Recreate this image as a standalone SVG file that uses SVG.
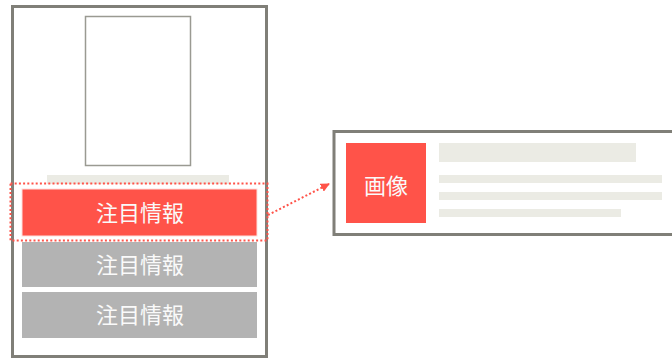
<svg xmlns="http://www.w3.org/2000/svg" width="672" height="358" viewBox="0 0 672 358">
<defs>
<style>
.frame{fill:#fff;stroke:#807f78;stroke-width:3}
.ph{fill:#ebebe4}
.red{fill:#ff5349}
.gray{fill:#b3b3b3}
.lbl{font-family:"Noto Sans CJK JP","Noto Sans CJK SC",sans-serif;font-size:22px;fill:#fafafa;text-anchor:middle;dominant-baseline:central}
.dot{fill:none;stroke:#ff5349;stroke-width:2;stroke-dasharray:2 2.2}
</style>
<marker id="ah" viewBox="0 0 10 10" refX="9" refY="5" markerWidth="4.5" markerHeight="4.5" orient="auto"><path d="M0,0 L10,5 L0,10 z" fill="#ff5349"/></marker>
</defs>
<g id="phone">
<rect class="frame" x="12.5" y="6.5" width="254" height="350"/>
<rect x="85.5" y="16.5" width="105" height="149" fill="#fff" stroke="#9a9a92" stroke-width="1.5"/>
<rect class="ph" x="47" y="175" width="182" height="9"/>
</g>
<g id="item1">
<rect class="red" x="22" y="189" width="235" height="47" stroke="#ffe0dd" stroke-width="1"/>
<text class="lbl" x="140" y="211">注目情報</text>
</g>
<g id="item2">
<rect class="gray" x="22" y="242" width="235" height="45"/>
<text class="lbl" x="140" y="263">注目情報</text>
</g>
<g id="item3">
<rect class="gray" x="22" y="292" width="235" height="46"/>
<text class="lbl" x="140" y="313">注目情報</text>
</g>
<g id="highlight">
<rect class="dot" x="10.5" y="183.5" width="257" height="57"/>
</g>
<g id="card">
<rect class="frame" x="334" y="131.5" width="345" height="103"/>
<rect class="red" x="346" y="143" width="80" height="80"/>
<text class="lbl" x="386" y="184">画像</text>
<rect class="ph" x="439" y="143" width="197" height="19"/>
<rect class="ph" x="439" y="175" width="223" height="8"/>
<rect class="ph" x="439" y="192" width="223" height="8"/>
<rect class="ph" x="439" y="209" width="182" height="8"/>
</g>
<g id="connectors">
<path class="dot" d="M268,215 L329,184" marker-end="url(#ah)"/>
</g>
</svg>
